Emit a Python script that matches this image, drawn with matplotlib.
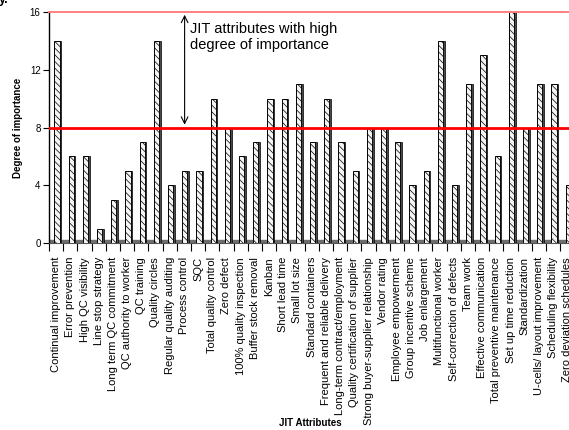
import matplotlib
matplotlib.use("Agg")
import matplotlib.pyplot as plt
import numpy as np

categories = [
    "Continual improvement", "Error prevention", "High QC visibility", "Line stop strategy",
    "Long term QC commitment", "QC authority to worker", "QC training", "Quality circles",
    "Regular quality auditing", "Process control", "SQC", "Total quality control",
    "Zero defect", "100% quality inspection", "Buffer stock removal", "Kanban",
    "Short lead time", "Small lot size", "Standard containers", "Frequent and reliable delivery",
    "Long-term contract/employment", "Quality certification of supplier",
    "Strong buyer-supplier relationship", "Vendor rating", "Employee empowerment",
    "Group incentive scheme", "Job enlargement", "Multifunctional worker",
    "Self-correction of defects", "Team work", "Effective communication",
    "Total preventive maintenance", "Set up time reduction", "Standardization",
    "U-cells/ layout improvement", "Scheduling flexibility", "Zero deviation schedules",
]
values = [14, 6, 6, 1, 3, 5, 7, 14, 4, 5, 5, 10, 8, 6, 7, 10, 10, 11, 7, 10, 7, 5, 8, 8,
          7, 4, 5, 14, 4, 11, 13, 6, 16, 8, 11, 11, 4]
yticks = [0, 4, 8, 12, 16]
threshold_low = 8
threshold_high = 16

plt.rcParams['font.family'] = ['Liberation Sans', 'DejaVu Sans']
plt.rcParams['hatch.linewidth'] = 0.5

fig = plt.figure(figsize=(5.69, 4.30), dpi=100)
ax = fig.add_axes([49/569, 1-243/430, (574.4-49)/569, (243-12)/430])

x = np.arange(len(categories))
# floor
ax.axhspan(-0.05, 0.22, color='#6e6e6e', zorder=1)
# bars: face + dark side
ax.bar(x + 0.06, values, width=0.36, color='#f4f4f4', edgecolor='black',
       hatch='\\\\\\\\\\', linewidth=0.7, zorder=3)
ax.bar(x + 0.30, values, width=0.12, color='#4a4a4a', edgecolor='black',
       linewidth=0.5, zorder=3)

ax.axhline(threshold_low, color='#ff0000', linewidth=2, zorder=4)
ax.axhline(threshold_high, color='#ff8080', linewidth=1.4, zorder=4, clip_on=False)

ax.set_xlim(-0.5, 36.12)
ax.set_ylim(0, 16)
ax.set_yticks(yticks)
ax.set_yticklabels([str(v) for v in yticks], fontsize=7)
ax.tick_params(axis='y', length=4, width=0.8, pad=2)

ax.set_xticks(x)
ax.set_xticklabels(categories, rotation=90, fontsize=8)
ax.tick_params(axis='x', length=0, pad=10)
ax.set_xticks(np.arange(-0.5, 37, 1), minor=True)
ax.tick_params(axis='x', which='minor', length=6, width=0.8, direction='out')

for s in ['top', 'right']:
    ax.spines[s].set_visible(False)
ax.spines['bottom'].set_color('#555555')
ax.spines['left'].set_linewidth(1)

ax.annotate('', xy=(9.05, threshold_low), xytext=(9.05, threshold_high),
            arrowprops=dict(arrowstyle='<->', color='black', lw=0.8, mutation_scale=12),
            zorder=5)
ax.text(9.4, 15.3, 'JIT attributes with high\ndegree of importance', fontsize=10.5,
        va='top', ha='left', linespacing=1.15, zorder=5)

ax.set_ylabel('Degree of importance', fontsize=7, fontweight='bold', labelpad=5)
fig.text(310/569, 1-423/430, 'JIT Attributes', fontsize=7, fontweight='bold',
         ha='center', va='center')
fig.text(-0.002, 1.0, 'y.', fontsize=9, fontweight='bold', ha='left', va='center')

fig.savefig('out.png', dpi=100)
